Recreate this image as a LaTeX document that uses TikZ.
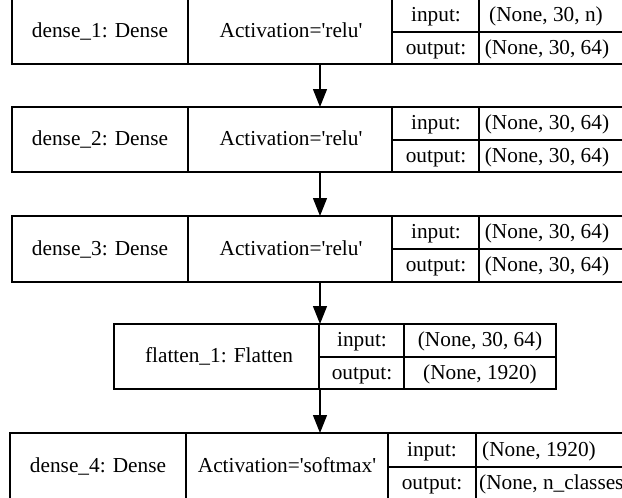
\documentclass[tikz,border=0pt]{standalone}
\usepackage{fontspec}
\setmainfont{Liberation Serif}[Ligatures=TeXOff]
\usetikzlibrary{arrows.meta}

\begin{document}
\begin{tikzpicture}[x=1pt, y={(0pt,-1pt)},
  frame/.style={draw, line width=1.3pt, rectangle, inner sep=0pt, outer sep=0pt, anchor=north west},
  rule/.style={line width=1.3pt},
  lbl/.style={font=\fontsize{21.3}{25}\selectfont, anchor=base, inner sep=0pt},
  flow/.style={line width=1.3pt, -{Triangle[length=18pt,width=14pt]}}]

\useasboundingbox (0,0) rectangle (622,498);
\clip (0,0) rectangle (622,498);
\fill[white] (0,0) rectangle (622,498);

\coordinate (axis) at (320,0);

% ---- dense_1 ----
\node[frame, minimum width=611pt, minimum height=65pt] (dense1) at (12,-1) {};
\draw[rule] (188,-1) -- (188,64) (392,-1) -- (392,64) (479,-1) -- (479,64) (392,32) -- (623,32);
\node[lbl] (d1name) at (100,37.5) {dense\textunderscore 1: Dense};
\node[lbl] (d1act)  at (291,37.5) {Activation='relu'};
\node[lbl] (d1in)   at (436,21.5) {input:};
\node[lbl] (d1out)  at (436,54)   {output:};
\node[lbl] (d1ins)  at (546,21.5) {(None, 30, n)};
\node[lbl] (d1outs) at (547,54)   {(None, 30, 64)};

% ---- dense_2 ----
\node[frame, minimum width=611pt, minimum height=65pt] (dense2) at (12,107) {};
\draw[rule] (188,107) -- (188,172) (392,107) -- (392,172) (479,107) -- (479,172) (392,140) -- (623,140);
\node[lbl] (d2name) at (100,145.5) {dense\textunderscore 2: Dense};
\node[lbl] (d2act)  at (291,145.5) {Activation='relu'};
\node[lbl] (d2in)   at (436,129.5) {input:};
\node[lbl] (d2out)  at (436,162)   {output:};
\node[lbl] (d2ins)  at (547,129.5) {(None, 30, 64)};
\node[lbl] (d2outs) at (547,162)   {(None, 30, 64)};

% ---- dense_3 ----
\node[frame, minimum width=611pt, minimum height=66pt] (dense3) at (12,216) {};
\draw[rule] (188,216) -- (188,282) (392,216) -- (392,282) (479,216) -- (479,282) (392,249) -- (623,249);
\node[lbl] (d3name) at (100,255) {dense\textunderscore 3: Dense};
\node[lbl] (d3act)  at (291,255) {Activation='relu'};
\node[lbl] (d3in)   at (436,238.5) {input:};
\node[lbl] (d3out)  at (436,271.5) {output:};
\node[lbl] (d3ins)  at (547,238.5) {(None, 30, 64)};
\node[lbl] (d3outs) at (547,271.5) {(None, 30, 64)};

% ---- flatten_1 ----
\node[frame, minimum width=442pt, minimum height=65pt] (flat) at (114,324) {};
\draw[rule] (319,324) -- (319,389) (404,324) -- (404,389) (319,357) -- (556,357);
\node[lbl] (fname) at (219,362.5) {flatten\textunderscore 1: Flatten};
\node[lbl] (fin)   at (362,346.5) {input:};
\node[lbl] (fout)  at (362,379)   {output:};
\node[lbl] (fins)  at (480,346.5) {(None, 30, 64)};
\node[lbl] (fouts) at (480,379)   {(None, 1920)};

% ---- dense_4 ----
\node[frame, minimum width=613pt, minimum height=67pt] (dense4) at (10,433) {};
\draw[rule] (186,433) -- (186,500) (388,433) -- (388,500) (476,433) -- (476,500) (388,467) -- (623,467);
\node[lbl] (d4name) at (98,472)  {dense\textunderscore 4: Dense};
\node[lbl] (d4act)  at (287,472) {Activation='softmax'};
\node[lbl] (d4in)   at (432,456) {input:};
\node[lbl] (d4out)  at (432,489) {output:};
\node[lbl] (d4ins)  at (539,456) {(None, 1920)};
\node[lbl, anchor=base west] (d4outs) at (479,489) {(None, n\textunderscore classes)};

% ---- connectors ----
\draw[flow] (dense1.south -| axis) -- (dense2.north -| axis);
\draw[flow] (dense2.south -| axis) -- (dense3.north -| axis);
\draw[flow] (dense3.south -| axis) -- (flat.north -| axis);
\draw[flow] (flat.south -| axis) -- (dense4.north -| axis);

\end{tikzpicture}
\end{document}
